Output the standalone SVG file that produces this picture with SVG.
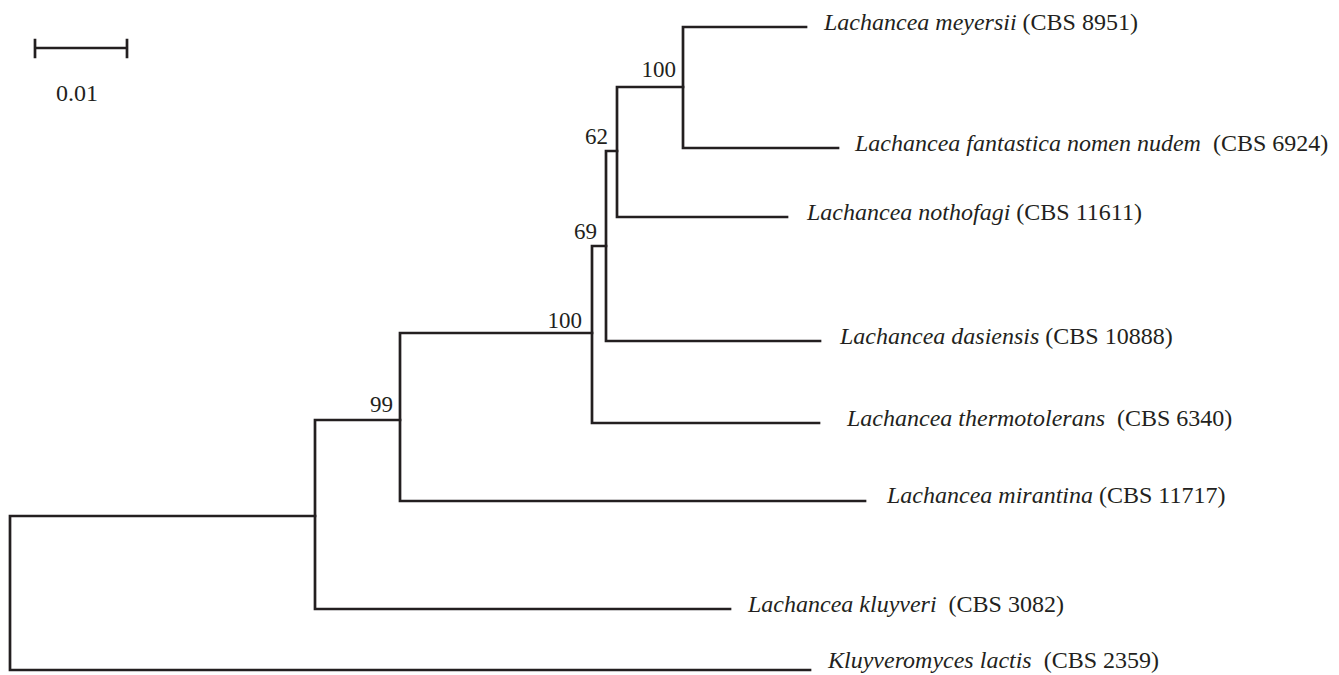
<svg xmlns="http://www.w3.org/2000/svg" width="1339" height="675" viewBox="0 0 1339 675">
<style>
.br{fill:none;stroke:#231f20;stroke-width:2.7;stroke-linecap:square;stroke-linejoin:miter}
.t{font-family:"Liberation Serif","Times New Roman",serif;font-size:24px;fill:#231f20;white-space:pre}
.i{font-style:italic}
.bs{font-family:"Liberation Serif","Times New Roman",serif;font-size:23px;fill:#231f20;text-anchor:end}
</style>
<rect width="1339" height="675" fill="#ffffff"/>
<g id="scale">
<path class="br" d="M35 48H127M35 40V57M127 40V57"/>
<text class="t" x="77" y="101" text-anchor="middle" font-size="23">0.01</text>
</g>
<g id="connectors">
<path class="br" d="M10 516V670M10 516H315M10 670H810"/>
<path class="br" d="M315 420V609M315 609H730M315 420H400"/>
<path class="br" d="M400 333V501M400 501H865M400 333H592"/>
<path class="br" d="M592 246V423M592 423H819M592 246H606"/>
<path class="br" d="M606 151V341M606 341H820M606 151H617"/>
<path class="br" d="M617 87V217M617 217H787M617 87H683"/>
<path class="br" d="M683 27V148M683 27H806M683 148H838"/>
</g>
<g id="support">
<text class="bs" x="676" y="77">100</text>
<text class="bs" x="608" y="144">62</text>
<text class="bs" x="597" y="239">69</text>
<text class="bs" x="582" y="328">100</text>
<text class="bs" x="393" y="412">99</text>
</g>
<g id="leaf-meyersii"><text class="t" x="824" y="30"><tspan class="i">Lachancea meyersii</tspan> (CBS 8951)</text></g>
<g id="leaf-fantastica"><text class="t" x="855" y="151"><tspan class="i">Lachancea fantastica nomen nudem</tspan>  (CBS 6924)</text></g>
<g id="leaf-nothofagi"><text class="t" x="807" y="220"><tspan class="i">Lachancea nothofagi</tspan> (CBS 11611)</text></g>
<g id="leaf-dasiensis"><text class="t" x="840" y="344"><tspan class="i">Lachancea dasiensis</tspan> (CBS 10888)</text></g>
<g id="leaf-thermotolerans"><text class="t" x="847" y="426"><tspan class="i">Lachancea thermotolerans</tspan>  (CBS 6340)</text></g>
<g id="leaf-mirantina"><text class="t" x="887" y="503"><tspan class="i">Lachancea mirantina</tspan> (CBS 11717)</text></g>
<g id="leaf-kluyveri"><text class="t" x="748" y="612"><tspan class="i">Lachancea kluyveri</tspan>  (CBS 3082)</text></g>
<g id="leaf-lactis"><text class="t" x="828" y="668"><tspan class="i">Kluyveromyces lactis</tspan>  (CBS 2359)</text></g>
</svg>
